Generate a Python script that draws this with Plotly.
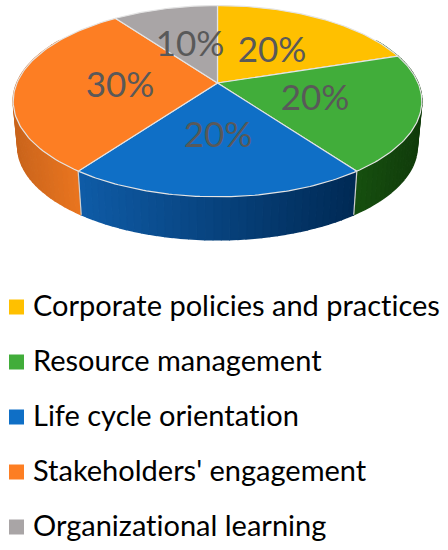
import numpy as np
import plotly.graph_objects as go

categories = ["Corporate policies and practices", "Resource management", "Life cycle orientation",
              "Stakeholders' engagement", "Organizational learning"]
values = [20, 20, 20, 30, 10]
top_colors = ["#FFC000", "#41AD3A", "#0F6FC6", "#FD7E23", "#A9A5A6"]
# side wall colour, left end and right end of each visible wall
side_left = ["#2A5A12", "#16500F", "#0F5CA8", "#C9641C", "#6E6B6C"]
side_right = ["#2A5A12", "#113C0B", "#002A55", "#E8741F", "#6E6B6C"]
label_pos = [(272, 53), (315, 101), (218, 138), (120, 88), (190, 47)]

# picture geometry, in pixels
CX, CY = 217.5, 83
A, B, K = 200.6, 92.2, 0.19
DEPTH, SHRINK = 45.5, 0.978


def top_xy(theta):
    # clockwise from 12 o'clock, perspective squash of the disc
    X, Y = np.sin(theta), np.cos(theta)
    d = 1 + K * Y
    return CX + A * X / d, CY - B * Y / d


def bottom_xy(theta):
    x, y = top_xy(theta)
    return CX + (x - CX) * SHRINK, CY + DEPTH + (y - CY) * SHRINK


def mix(c1, c2, t):
    a = [int(c1[i:i + 2], 16) for i in (1, 3, 5)]
    b = [int(c2[i:i + 2], 16) for i in (1, 3, 5)]
    return "rgb(%d,%d,%d)" % tuple(round(p + (q - p) * t) for p, q in zip(a, b))


def poly(fig, x, y, color, line_color=None, width=1):
    fig.add_trace(go.Scatter(x=x, y=y, mode="lines", fill="toself", fillcolor=color,
                             line=dict(color=line_color or color, width=width),
                             hoverinfo="skip", showlegend=False))


fig = go.Figure()

edges = np.cumsum([0] + values) / sum(values) * 2 * np.pi

# side walls first, the top faces cover whatever is behind
for i in range(len(values)):
    lo, hi = max(edges[i], np.radians(60)), min(edges[i + 1], np.radians(300))
    if lo >= hi:
        continue
    steps = np.linspace(lo, hi, int(np.degrees(hi - lo) / 2) + 2)
    xs = top_xy(steps)[0]
    for a, b, xa in zip(steps[:-1], steps[1:], xs[:-1]):
        t = (xa - xs.min()) / (xs.max() - xs.min())
        x1, y1 = top_xy(np.array([a, b]))
        x2, y2 = bottom_xy(np.array([b, a]))
        poly(fig, list(x1) + list(x2), list(y1) + list(y2), mix(side_left[i], side_right[i], t), width=1.5)

# pale seams on the wall
for ang in edges:
    if np.radians(100) < ang < np.radians(260):
        x1, y1 = top_xy(ang)
        x2, y2 = bottom_xy(ang)
        fig.add_trace(go.Scatter(x=[x1, x2], y=[y1, y2], mode="lines", hoverinfo="skip", showlegend=False,
                                 line=dict(color="#D0D0D0", width=1.2)))

# top faces
for i in range(len(values)):
    t = np.linspace(edges[i], edges[i + 1], 80)
    x, y = top_xy(t)
    poly(fig, [CX] + list(x) + [CX], [CY] + list(y) + [CY], top_colors[i], "#E4E4E4", 1.2)

# percent labels
fig.add_trace(go.Scatter(x=[p[0] for p in label_pos], y=[p[1] for p in label_pos], mode="text",
                         text=["%d%%" % v for v in values], hoverinfo="skip", showlegend=False,
                         textfont=dict(family="Lato", size=35, color="#595959")))

# legend
rows = [307, 362, 417, 472, 527]
fig.add_trace(go.Scatter(x=[16.5] * 5, y=rows, mode="markers", hoverinfo="skip", showlegend=False,
                         marker=dict(symbol="square", size=15, color=top_colors, line=dict(width=0))))
fig.add_trace(go.Scatter(x=[33] * 5, y=[r + 2 for r in rows], mode="text", text=categories,
                         textposition="middle right", hoverinfo="skip", showlegend=False,
                         textfont=dict(family="Lato", size=29, color="#000000")))

fig.update_layout(
    width=448, height=550, margin=dict(l=0, r=0, t=0, b=0),
    paper_bgcolor="white", plot_bgcolor="white", showlegend=False,
    xaxis=dict(range=[0, 448], visible=False, fixedrange=True),
    yaxis=dict(range=[550, 0], visible=False, fixedrange=True),
)

# page margin would push the chart 8px off, and Lato's "ti" ligature is not in the original
post = ("document.body.style.margin='0';"
        "var s=document.createElement('style');"
        "s.textContent=\"text{font-variant-ligatures:none !important;"
        "font-feature-settings:'liga' 0,'clig' 0 !important}\";"
        "document.head.appendChild(s);")
fig.write_html("out.html", config={"displayModeBar": False}, post_script=post)
